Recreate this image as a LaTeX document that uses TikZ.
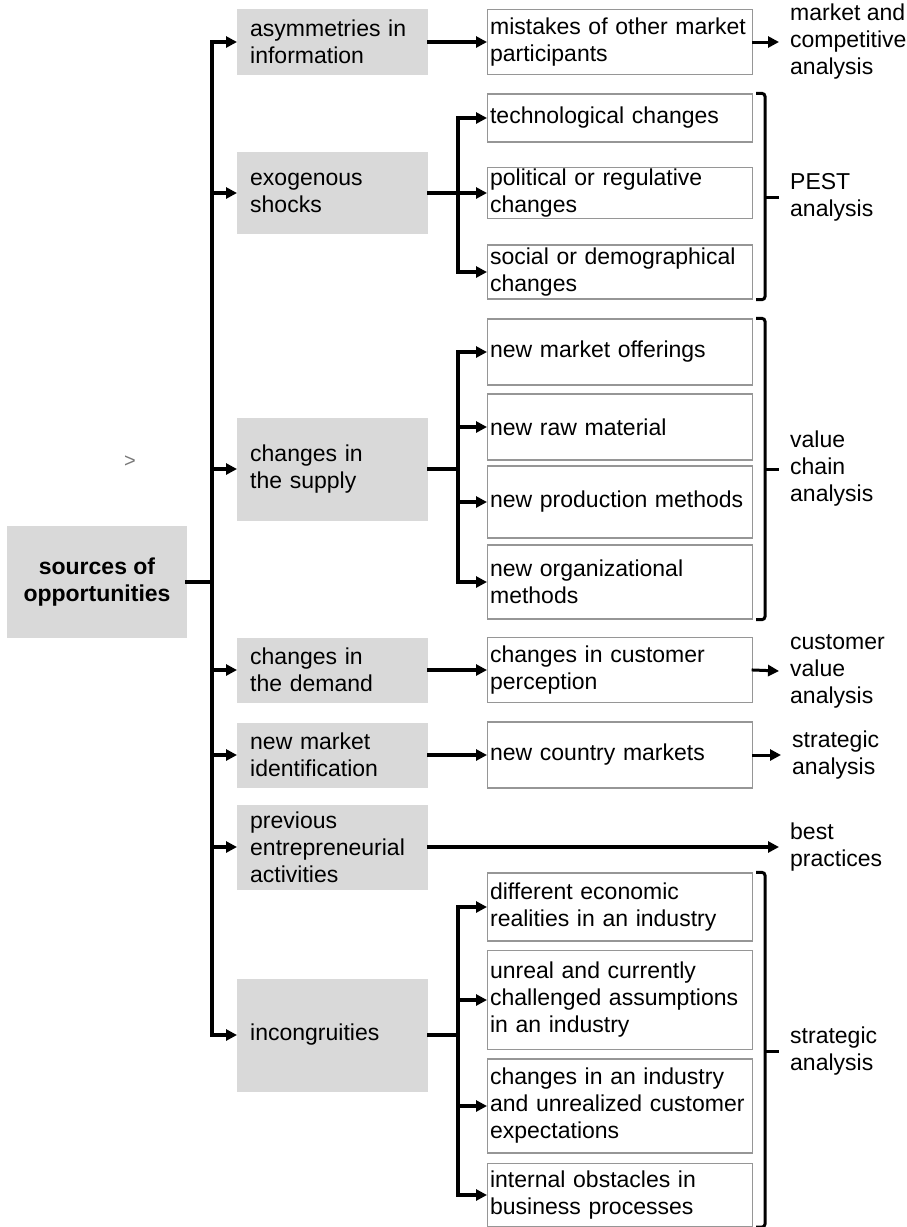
\documentclass[tikz,border=0pt]{standalone}
\usepackage{fontspec}
\setmainfont{Liberation Sans}
\usetikzlibrary{positioning,arrows.meta}
\definecolor{boxgray}{RGB}{217,217,217}
\definecolor{boxline}{RGB}{150,150,150}
\definecolor{markgray}{RGB}{120,120,120}

\begin{document}
\begin{tikzpicture}[
    x=1pt, y=-1pt,
    >={Triangle[length=11pt,width=11pt]},
    font=\fontsize{23}{27}\selectfont,
    srcbox/.style={fill=boxgray, minimum width=180pt, minimum height=112pt, align=center, font=\fontsize{23}{27}\selectfont\bfseries},
    catbox/.style={fill=boxgray, anchor=west, text width=165pt, inner xsep=13pt, inner ysep=1pt, align=left},
    itembox/.style={draw=boxline, line width=1.2pt, anchor=west, text width=260pt, inner xsep=2.5pt, inner ysep=1pt, align=left},
    result/.style={anchor=west, inner xsep=11pt, align=left},
    link/.style={line width=3.5pt, line cap=rect},
    brack/.style={line width=3pt, rounded corners=3pt}
]

% canvas: 907 x 1227 (1pt per pixel)
\useasboundingbox (0,0) rectangle (907,1227);

% x positions of the vertical lines
\coordinate (trunk) at (212,0);
\coordinate (sub) at (458,0);
\coordinate (brX) at (765,0);

% Root
\node[srcbox] (src) at (97,582) {sources of\\opportunities};
\node[text=markgray, font=\fontsize{20}{20}\selectfont] (glyph) at (130,462) {>};

% Sources (grey boxes)
\node[catbox, minimum height=66pt] (asym) at (237,42) {asymmetries in\\information};
\node[catbox, minimum height=82pt] (exo) at (237,193) {exogenous\\shocks};
\node[catbox, minimum height=103pt] (supply) at (237,469) {changes in\\the supply};
\node[catbox, minimum height=65pt] (demand) at (237,670) {changes in\\the demand};
\node[catbox, minimum height=65pt] (ident) at (237,755) {new market\\identification};
\node[catbox, minimum height=85pt] (prev) at (237,847) {previous\\entrepreneurial\\activities};
\node[catbox, minimum height=113pt] (incong) at (237,1035) {incongruities};

% Details (white boxes)
\node[itembox, minimum height=65pt] (mist) at (487,42) {mistakes of other market\\participants};
\node[itembox, minimum height=48pt] (tech) at (487,118) {technological changes};
\node[itembox, minimum height=49pt] (poli) at (487,193) {political or regulative\\changes};
\node[itembox, minimum height=54pt] (soc) at (487,272) {social or demographical\\changes};
\node[itembox, minimum height=66pt] (offer) at (487,352) {new market offerings};
\node[itembox, minimum height=66pt] (raw) at (487,427) {new raw material};
\node[itembox, minimum height=72pt] (prod) at (487,502) {new production methods};
\node[itembox, minimum height=74pt] (org) at (487,582) {new organizational\\methods};
\node[itembox, minimum height=65pt] (perc) at (487,670) {changes in customer\\perception};
\node[itembox, minimum height=66pt] (country) at (487,755) {new country markets};
\node[itembox, minimum height=68pt] (econ) at (487,907) {different economic\\realities in an industry};
\node[itembox, minimum height=99pt] (unreal) at (487,1000) {unreal and currently\\challenged assumptions\\in an industry};
\node[itembox, minimum height=94pt] (indus) at (487,1106) {changes in an industry\\and unrealized customer\\expectations};
\node[itembox, minimum height=63pt] (intern) at (487,1195) {internal obstacles in\\business processes};

% Analyses
\node[result] (mkt) at (779,42) {market and\\competitive\\analysis};
\node[result] (pest) at (779,197) {PEST\\analysis};
\node[result] (vc) at (779,469) {value\\chain\\analysis};
\node[result] (cust) at (779,671) {customer\\value\\analysis};
\node[result] (strat) at (781,755) {strategic\\analysis};
\node[result] (best) at (779,847) {best\\practices};
\node[result] (stratb) at (779,1051) {strategic\\analysis};

% Main trunk
\draw[link] (src.east) -- (src.east -| trunk);
\draw[link] (trunk |- asym.west) -- (trunk |- incong.west);
\foreach \n in {asym,exo,supply,demand,ident,prev,incong}
    \draw[link,->] (trunk |- \n.west) -- (\n.west);

% Branches
\draw[link] (exo.east) -- (exo.east -| sub);
\draw[link] (sub |- tech.west) -- (sub |- soc.west);
\foreach \n in {tech,poli,soc}
    \draw[link,->] (sub |- \n.west) -- (\n.west);

\draw[link] (supply.east) -- (supply.east -| sub);
\draw[link] (sub |- offer.west) -- (sub |- org.west);
\foreach \n in {offer,raw,prod,org}
    \draw[link,->] (sub |- \n.west) -- (\n.west);

\draw[link] (incong.east) -- (incong.east -| sub);
\draw[link] (sub |- econ.west) -- (sub |- intern.west);
\foreach \n in {econ,unreal,indus,intern}
    \draw[link,->] (sub |- \n.west) -- (\n.west);

\draw[link,->] (asym.east) -- (mist.west);
\draw[link,->] (demand.east) -- (perc.west);
\draw[link,->] (ident.east) -- (country.west);
\draw[link,->] (prev.east) -- (best.west);

% To the analyses
\draw[link,->,line width=3pt] (mist.east) -- (mkt.west);
\draw[link,->,line width=3pt] (perc.east) -- (cust.west);
\draw[link,->,line width=3pt] (country.east) -- (strat.west);

% Brackets
\draw[brack] ([xshift=3pt]tech.north east) -| (brX |- soc.south east) -- ([xshift=3pt]soc.south east);
\draw[brack] (brX |- pest.west) -- (pest.west);
\draw[brack] ([xshift=3pt]offer.north east) -| (brX |- org.south east) -- ([xshift=3pt]org.south east);
\draw[brack] (brX |- vc.west) -- (vc.west);
\draw[brack] ([xshift=3pt]econ.north east) -| (brX |- intern.south east) -- ([xshift=3pt]intern.south east);
\draw[brack] (brX |- stratb.west) -- (stratb.west);

\end{tikzpicture}
\end{document}
